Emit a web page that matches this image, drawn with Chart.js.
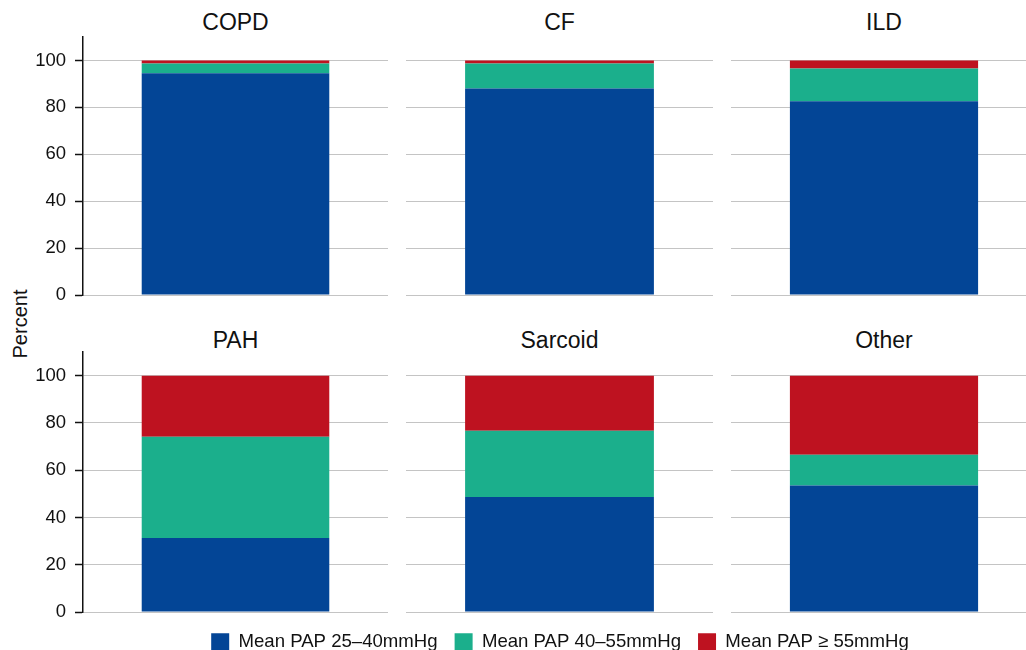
<!DOCTYPE html>
<html>
<head>
<meta charset="utf-8">
<script src="https://cdn.jsdelivr.net/npm/chart.js@4/dist/chart.umd.min.js"></script>
<style>
  html, body { margin: 0; padding: 0; background: #fff; overflow: hidden; }
  #wrap { position: relative; width: 1026px; height: 650px; overflow: hidden; background: #fff;
          font-family: "Liberation Sans", Arial, Helvetica, sans-serif; color: #111; }
  .panel { position: absolute; }
  .ptitle { position: absolute; font-size: 23px; text-align: center; line-height: 1; color: #111; }
  #ylabel { position: absolute; left: 20px; top: 324px; font-size: 20px; color: #111;
            transform: translate(-50%, -50%) rotate(-90deg); white-space: nowrap; }
</style>
</head>
<body>
<div id="wrap">
  <div id="ylabel">Percent</div>
</div>
<script>
// Share of patients in each mean pulmonary artery pressure band, by diagnosis
const categories = ['COPD', 'CF', 'ILD', 'PAH', 'Sarcoid', 'Other'];
const pap25to40 = [94.5, 88.0, 82.6, 31.3, 48.7, 53.5];
const pap40to55 = [4.2, 10.7, 14.0, 42.8, 28.0, 13.0];
const pap55plus = [1.3, 1.3, 3.4, 25.9, 23.3, 33.5];
const seriesLabels = ['Mean PAP 25\u201340mmHg', 'Mean PAP 40\u201355mmHg', 'Mean PAP \u2265 55mmHg'];
const yTicks = [0, 20, 40, 60, 80, 100];

const colors = ['#034596', '#1BAF8C', '#BE1220'];
const series = [pap25to40, pap40to55, pap55plus];
const FONT = '"Liberation Sans", Arial, Helvetica, sans-serif';

// panel frames: canvas box (left, top, width, height); plot area inside is padded 12px top/bottom
const cols = [{left: 0, width: 388, axis: true}, {left: 406, width: 307}, {left: 731, width: 306}];
const rows = [{top: 25, height: 282}, {top: 340, height: 284}];
const titleTops = [11, 329];
const plotCenters = [235.5, 559.5, 884];

const wrap = document.getElementById('wrap');

categories.forEach((cat, i) => {
  const r = Math.floor(i / 3), c = i % 3;
  const col = cols[c], row = rows[r];

  const t = document.createElement('div');
  t.className = 'ptitle';
  t.textContent = cat;
  t.style.left = (plotCenters[c] - 100) + 'px';
  t.style.width = '200px';
  t.style.top = titleTops[r] + 'px';
  wrap.appendChild(t);

  const box = document.createElement('div');
  box.className = 'panel';
  box.style.left = col.left + 'px';
  box.style.top = row.top + 'px';
  box.style.width = col.width + 'px';
  box.style.height = row.height + 'px';
  const cv = document.createElement('canvas');
  box.appendChild(cv);
  wrap.appendChild(box);

  const showAxis = !!col.axis;
  new Chart(cv, {
    type: 'bar',
    data: {
      labels: [cat],
      datasets: series.map((s, k) => ({
        label: seriesLabels[k],
        data: [s[i]],
        backgroundColor: colors[k],
        borderWidth: 0,
        barPercentage: 1,
        categoryPercentage: 0.615
      }))
    },
    options: {
      responsive: true,
      maintainAspectRatio: false,
      animation: false,
      layout: { padding: { top: 12, bottom: 12, left: 0, right: 0 } },
      plugins: { legend: { display: false }, tooltip: { enabled: false } },
      scales: {
        x: { stacked: true, display: false },
        y: {
          stacked: true,
          min: 0,
          max: 110,
          afterBuildTicks: (sc) => { sc.ticks = yTicks.map(v => ({ value: v })); },
          afterFit: (sc) => {
            sc.width = showAxis ? 83 : 0;
            sc.paddingTop = 0;
            sc.paddingBottom = 0;
          },
          ticks: {
            display: showAxis,
            padding: 9,
            color: '#111',
            font: { family: FONT, size: 18.5 }
          },
          grid: {
            color: '#c4c4c4',
            lineWidth: 1,
            drawTicks: showAxis,
            tickLength: 8,
            tickColor: '#111',
            tickWidth: 1.5
          },
          border: { display: showAxis, color: '#111', width: 1.5 }
        }
      }
    }
  });
});

// shared legend under the grid of panels
const lbox = document.createElement('div');
lbox.className = 'panel';
lbox.style.left = '83px';
lbox.style.top = '616px';
lbox.style.width = '954px';
lbox.style.height = '110px';
const lcv = document.createElement('canvas');
lbox.appendChild(lcv);
wrap.appendChild(lbox);
new Chart(lcv, {
  type: 'bar',
  data: {
    labels: [],
    datasets: series.map((s, k) => ({ label: seriesLabels[k], data: [], backgroundColor: colors[k], borderWidth: 0 }))
  },
  options: {
    responsive: true,
    maintainAspectRatio: false,
    animation: false,
    layout: { padding: 0 },
    scales: { x: { display: false }, y: { display: false } },
    plugins: {
      tooltip: { enabled: false },
      legend: {
        position: 'top',
        labels: {
          boxWidth: 18,
          boxHeight: 18,
          padding: 17,
          color: '#111',
          font: { family: FONT, size: 18.6 }
        }
      }
    }
  }
});
</script>
</body>
</html>
